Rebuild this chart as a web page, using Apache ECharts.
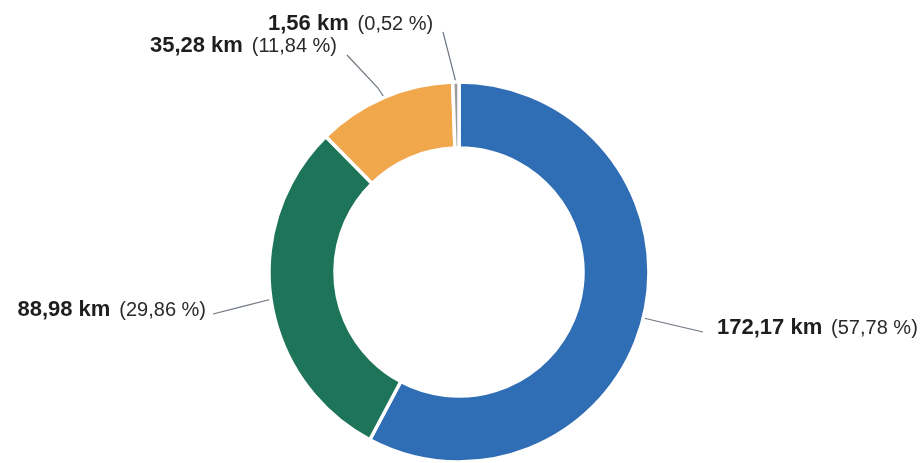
<!DOCTYPE html>
<html>
<head>
<meta charset="utf-8">
<script src="https://cdn.jsdelivr.net/npm/echarts@6/dist/echarts.min.js"></script>
<style>
html,body{margin:0;padding:0;background:#fff;}
#chart{width:923px;height:463px;}
</style>
</head>
<body>
<div id="chart"></div>
<script>
// Data
var categories = ['A', 'B', 'C', 'D'];
var valuesKm = [172.17, 88.98, 35.28, 1.56];
var colors = ['#2f6db5', '#1e7459', '#f1a84d', '#999999'];

// Label placement (styling)
var labelPos = [
  {x: 717, y: 328, align: 'left',  ex: 703, ey: 332},
  {x: 206, y: 310, align: 'right', ex: 213, ey: 314},
  {x: 337, y: 46,  align: 'right', ex: 347, ey: 55, mx: 378, my: 88},
  {x: 268, y: 24,  align: 'left',  ex: 443, ey: 32}
];

function fmt(v) { return v.toFixed(2).replace('.', ','); }

var FONT = 'Liberation Sans, Arial, sans-serif';
var chart = echarts.init(document.getElementById('chart'), null, {renderer: 'canvas'});
chart.setOption({
  backgroundColor: '#ffffff',
  animation: false,
  series: [{
    type: 'pie',
    center: [459, 272],
    radius: [124, 190],
    startAngle: 90,
    clockwise: true,
    percentPrecision: 2,
    avoidLabelOverlap: false,
    data: categories.map(function (c, i) {
      return {name: c, value: valuesKm[i], itemStyle: {color: colors[i]}};
    }),
    itemStyle: {borderColor: '#ffffff', borderWidth: 3.5},
    label: {
      show: true,
      position: 'outside',
      fontFamily: FONT,
      color: '#222',
      formatter: function (p) {
        return '{b|' + fmt(p.value) + ' km}{s| }{n|(' + fmt(p.percent) + ' %)}';
      },
      rich: {
        b: {fontFamily: FONT, fontWeight: 'bold', fontSize: 22, lineHeight: 26, color: '#1e1e1e'},
        s: {fontFamily: FONT, fontSize: 32, lineHeight: 26},
        n: {fontFamily: FONT, fontSize: 20, lineHeight: 26, color: '#2a2a2a'}
      }
    },
    labelLine: {
      show: true,
      length: 10,
      length2: 10,
      lineStyle: {color: '#6f7882', width: 1.2}
    },
    labelLayout: function (p) {
      var L = labelPos[p.dataIndex];
      var s = p.labelLinePoints ? p.labelLinePoints[0] : [L.ex, L.ey];
      var mid = (L.mx != null) ? [L.mx, L.my] : [(s[0] + L.ex) / 2, (s[1] + L.ey) / 2];
      return {
        x: L.x,
        y: L.y,
        align: L.align,
        verticalAlign: 'middle',
        labelLinePoints: [s, mid, [L.ex, L.ey]]
      };
    }
  }]
});
</script>
</body>
</html>
